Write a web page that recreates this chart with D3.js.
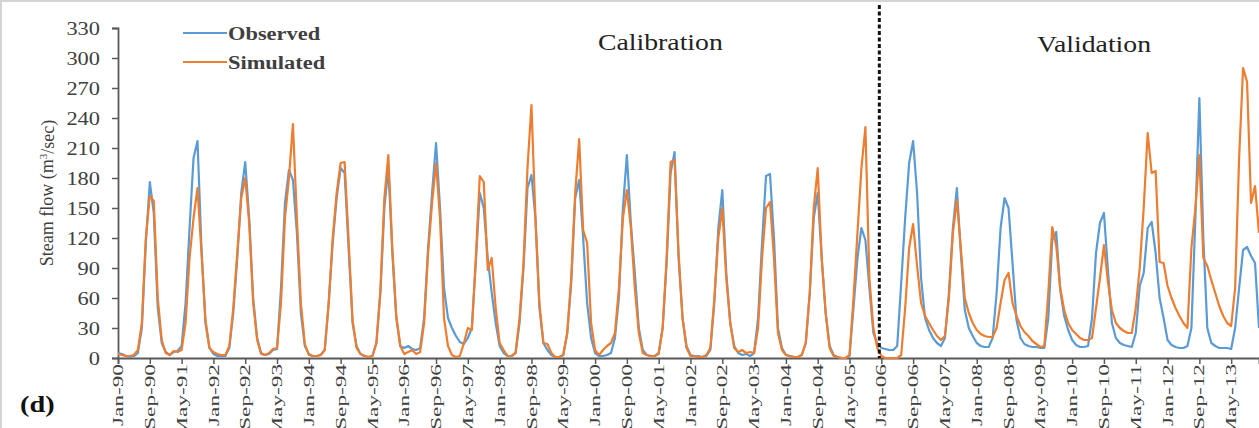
<!DOCTYPE html>
<html>
<head>
<meta charset="utf-8">
<script src="https://cdn.jsdelivr.net/npm/d3@7"></script>
<style>
  html, body { margin: 0; padding: 0; background: #fff; }
  svg { display: block; }
  text { font-family: "Liberation Serif", "Times New Roman", serif; }
</style>
</head>
<body>
<svg id="chart" width="1259" height="428"></svg>
<script>
// ---------- DATA (monthly, Jan-1990 .. Dec-2013) ----------
const startYear = 1990;
const monthNames = ["Jan","Feb","Mar","Apr","May","Jun","Jul","Aug","Sep","Oct","Nov","Dec"];

const observed = [
  5, 4, 2, 1, 2, 5, 30, 115, 176, 145, 50, 15,        // 1990
  6, 3, 6, 7, 12, 55, 130, 200, 217, 110, 35, 10,     // 1991
  4, 2, 2, 2, 10, 45, 100, 165, 196, 140, 60, 20,     // 1992
  5, 3, 4, 8, 9, 70, 155, 188, 178, 125, 45, 12,      // 1993
  4, 2, 2, 3, 8, 55, 115, 160, 190, 185, 110, 35,     // 1994
  12, 4, 2, 1, 2, 15, 65, 150, 190, 105, 40, 12,      // 1995
  10, 12, 9, 8, 10, 40, 110, 165, 215, 150, 70, 40,   // 1996
  30, 22, 16, 14, 20, 30, 95, 165, 150, 100, 65, 35,  // 1997
  12, 5, 2, 2, 5, 35, 90, 170, 183, 140, 50, 15,      // 1998
  8, 3, 1, 1, 3, 25, 75, 160, 178, 120, 55, 20,       // 1999
  5, 2, 2, 3, 5, 20, 60, 150, 203, 135, 85, 30,       // 2000
  8, 3, 2, 2, 5, 30, 95, 185, 206, 100, 40, 12,       // 2001
  3, 2, 2, 1, 2, 8, 55, 130, 168, 85, 35, 12,         // 2002
  5, 3, 4, 2, 5, 40, 115, 182, 184, 120, 30, 10,      // 2003
  3, 2, 1, 1, 3, 15, 65, 140, 165, 100, 45, 12,       // 2004
  3, 1, 0, 0, 2, 50, 100, 130, 118, 70, 25, 14,       // 2005
  10, 9, 8, 8, 12, 75, 140, 195, 217, 165, 80, 40,    // 2006
  28, 20, 15, 12, 20, 65, 130, 170, 105, 48, 30, 22,  // 2007
  15, 12, 11, 11, 20, 65, 130, 160, 150, 95, 38, 20,  // 2008
  14, 12, 11, 11, 10, 10, 40, 118, 126, 68, 42, 28,   // 2009
  18, 13, 11, 11, 12, 40, 105, 135, 145, 88, 35, 20,  // 2010
  15, 13, 12, 11, 25, 72, 85, 130, 136, 105, 60, 40,  // 2011
  18, 13, 11, 10, 10, 12, 30, 140, 260, 120, 30, 15,  // 2012
  12, 10, 10, 10, 9, 30, 70, 108, 111, 102, 95, 30    // 2013
];

const simulated = [
  4, 3, 2, 2, 3, 8, 35, 120, 162, 157, 60, 18,        // 1990
  5, 3, 7, 6, 8, 35, 100, 140, 170, 105, 38, 10,      // 1991
  6, 4, 3, 3, 12, 50, 105, 160, 180, 135, 55, 18,     // 1992
  4, 3, 5, 9, 10, 55, 140, 180, 234, 140, 55, 14,     // 1993
  3, 2, 2, 3, 8, 55, 120, 165, 195, 196, 118, 38,     // 1994
  10, 4, 2, 1, 2, 15, 68, 160, 203, 110, 42, 12,      // 1995
  4, 6, 8, 4, 6, 35, 105, 155, 195, 140, 40, 12,      // 1996
  3, 1, 2, 15, 30, 28, 100, 182, 176, 88, 100, 50,    // 1997
  15, 8, 2, 2, 5, 40, 95, 190, 253, 140, 55, 15,      // 1998
  14, 5, 1, 1, 3, 25, 80, 165, 219, 128, 115, 35,     // 1999
  8, 3, 8, 12, 15, 25, 70, 140, 168, 130, 70, 25,     // 2000
  5, 3, 2, 2, 4, 30, 100, 196, 198, 105, 40, 10,      // 2001
  2, 2, 1, 1, 3, 10, 60, 120, 150, 80, 35, 10,        // 2002
  6, 8, 5, 6, 5, 30, 100, 150, 156, 100, 25, 8,       // 2003
  3, 2, 1, 1, 3, 15, 65, 150, 190, 100, 45, 10,       // 2004
  2, 1, 0, 0, 3, 60, 125, 190, 231, 80, 30, 10,       // 2005
  2, 0, 0, 0, 0, 3, 50, 110, 134, 92, 55, 42,         // 2006
  35, 28, 22, 18, 22, 60, 125, 158, 110, 60, 45, 35,  // 2007
  28, 24, 22, 21, 21, 30, 55, 78, 85, 55, 42, 32,     // 2008
  26, 22, 17, 14, 11, 12, 65, 131, 112, 70, 48, 35,   // 2009
  28, 24, 20, 18, 18, 20, 50, 80, 113, 76, 48, 35,    // 2010
  30, 27, 25, 25, 50, 90, 150, 225, 185, 187, 96, 95, // 2011
  72, 60, 50, 42, 35, 30, 110, 150, 203, 100, 92, 78, // 2012
  65, 52, 42, 35, 32, 70, 200, 290, 276, 155, 172, 125 // 2013
];

const tickLabels = ["Jan-90","Sep-90","May-91","Jan-92","Sep-92","May-93","Jan-94","Sep-94","May-95",
  "Jan-96","Sep-96","May-97","Jan-98","Sep-98","May-99","Jan-00","Sep-00","May-01","Jan-02","Sep-02",
  "May-03","Jan-04","Sep-04","May-05","Jan-06","Sep-06","May-07","Jan-08","Sep-08","May-09","Jan-10",
  "Sep-10","May-11","Jan-12","Sep-12","May-13"];
const yTicks = [0, 30, 60, 90, 120, 150, 180, 210, 240, 270, 300, 330];
const seriesNames = ["Observed", "Simulated"];
const seriesColors = ["#5B9BD5", "#ED7D31"];
const validationStart = "Jan-06";

(function () {
// month categories derived from the series length
const months = observed.map((_, i) =>
  monthNames[i % 12] + "-" + String((startYear + Math.floor(i / 12)) % 100).padStart(2, "0"));

// ---------- LAYOUT ----------
const svg = d3.select("#chart");
const W = 1259, H = 428;
const mLeft = 118, mRight = 1259, mTop = 28, mBottom = 358;
const SX = 1.18; // horizontal stretch of the original picture's text

svg.append("rect").attr("x", 1).attr("y", 1).attr("width", W + 10).attr("height", H + 10)
  .attr("fill", "#fff").attr("stroke", "#d4d4d4").attr("stroke-width", 2);

const x = d3.scalePoint().domain(months).range([mLeft, mRight]);
const y = d3.scaleLinear().domain([0, 330]).range([mBottom, mTop]);

const axisColor = "#595959";

// y axis
const yAxis = svg.append("g").attr("transform", `translate(${mLeft},0)`)
  .call(d3.axisLeft(y).tickValues(yTicks).tickSize(6).tickFormat(""));
yAxis.select(".domain").attr("stroke", axisColor).attr("stroke-width", 1.8);
yAxis.selectAll(".tick line").attr("stroke", axisColor).attr("stroke-width", 1.5);

svg.append("g").selectAll("text").data(yTicks).join("text")
  .attr("transform", d => `translate(100,${y(d) + 6.5}) scale(${SX},1)`)
  .attr("text-anchor", "end")
  .attr("font-size", 19)
  .attr("fill", "#404040")
  .text(d => d);

// x axis
const xAxis = svg.append("g").attr("transform", `translate(0,${mBottom})`)
  .call(d3.axisBottom(x).tickValues(tickLabels).tickSize(6).tickFormat(""));
xAxis.select(".domain").attr("stroke", axisColor).attr("stroke-width", 1.8);
xAxis.selectAll(".tick line").attr("stroke", axisColor).attr("stroke-width", 1.5);

svg.append("g").selectAll("text").data(tickLabels).join("text")
  .attr("transform", d => `translate(${x(d)},${mBottom + 6}) rotate(-90) scale(1.55,1)`)
  .attr("text-anchor", "end")
  .attr("dy", "0.34em")
  .attr("font-size", 15)
  .attr("fill", "#404040")
  .text(d => d);

// y axis title
const yt = svg.append("text")
  .attr("transform", "translate(47,193) rotate(-90)")
  .attr("text-anchor", "middle")
  .attr("dy", "0.35em")
  .attr("font-size", 18)
  .attr("fill", "#404040");
yt.append("tspan").text("Steam flow (m");
yt.append("tspan").attr("font-size", 11).attr("dy", "-0.55em").text("3");
yt.append("tspan").attr("dy", "0.35em").text("/sec)");

// lines
svg.append("clipPath").attr("id", "plotclip").append("rect")
  .attr("x", mLeft).attr("y", 0).attr("width", mRight - mLeft + 2).attr("height", mBottom + 2);

const line = d3.line().x((d, i) => x(months[i])).y(d => y(d)).curve(d3.curveLinear);
const plot = svg.append("g").attr("clip-path", "url(#plotclip)");
[observed, simulated].forEach((s, k) => {
  plot.append("path").datum(s)
    .attr("d", line)
    .attr("fill", "none")
    .attr("stroke", seriesColors[k])
    .attr("stroke-width", 2.2)
    .attr("stroke-linejoin", "round");
});

// calibration / validation divider
const iv = months.indexOf(validationStart);
const xd = (x(months[iv - 1]) + x(months[iv])) / 2;
svg.append("line")
  .attr("x1", xd).attr("x2", xd).attr("y1", 5).attr("y2", mBottom)
  .attr("stroke", "#111").attr("stroke-width", 3).attr("stroke-dasharray", "4,2.5");

// period labels
svg.append("text").attr("transform", `translate(598,50) scale(${SX * 0.98},1)`)
  .attr("font-size", 24).attr("fill", "#222").text("Calibration");
svg.append("text").attr("transform", `translate(1037,52) scale(${SX * 0.98},1)`)
  .attr("font-size", 24).attr("fill", "#222").text("Validation");

// legend
const lg = svg.append("g");
seriesNames.forEach((n, k) => {
  const yy = 33 + k * 29;
  lg.append("line").attr("x1", 183).attr("x2", 227).attr("y1", yy).attr("y2", yy)
    .attr("stroke", seriesColors[k]).attr("stroke-width", 2.2);
  lg.append("text").attr("transform", `translate(228,${yy + 6.5}) scale(${SX},1)`)
    .attr("font-size", 19).attr("font-weight", "bold").attr("fill", "#404040").text(n);
});

// panel label
svg.append("text").attr("transform", `translate(20,412) scale(${SX},1)`)
  .attr("font-size", 24).attr("font-weight", "bold").attr("fill", "#111").text("(d)");
})();
</script>
</body>
</html>
